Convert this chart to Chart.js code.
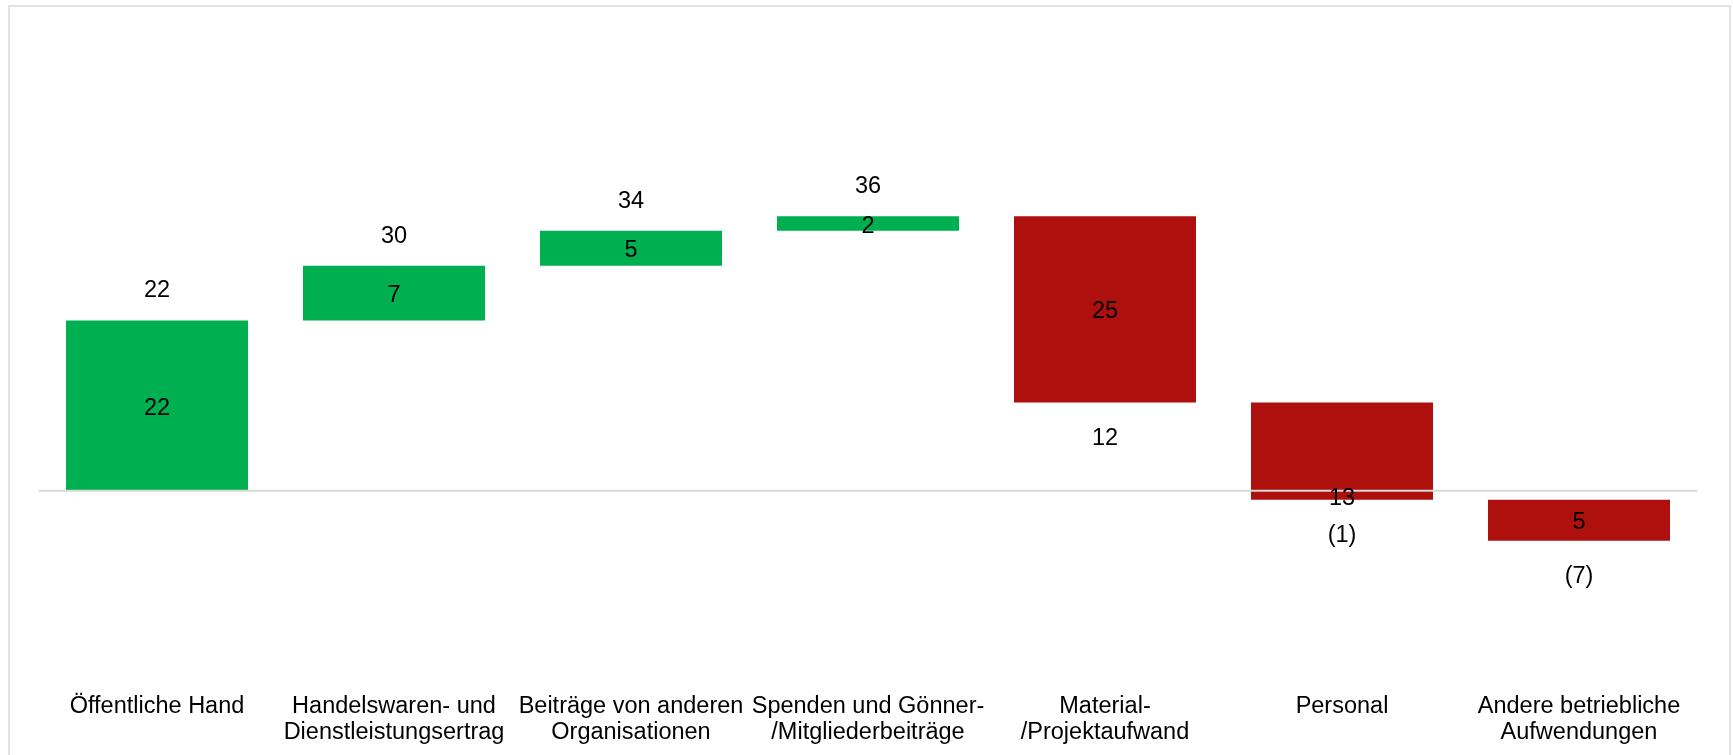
<!DOCTYPE html>
<html>
<head>
<meta charset="utf-8">
<script src="https://cdn.jsdelivr.net/npm/chart.js@4/dist/chart.umd.min.js"></script>
<style>
  html, body { margin: 0; padding: 0; background: #ffffff; }
  #wrap { width: 1733px; height: 755px; position: relative; }
</style>
</head>
<body>
<div id="wrap"><canvas id="c"></canvas></div>
<script>
// ---- Data ----
const categories = [
  ['Öffentliche Hand'],
  ['Handelswaren- und', 'Dienstleistungsertrag'],
  ['Beiträge von anderen', 'Organisationen'],
  ['Spenden und Gönner-', '/Mitgliederbeiträge'],
  ['Material-', '/Projektaufwand'],
  ['Personal'],
  ['Andere betriebliche', 'Aufwendungen']
];
const changes = [22.4, 7.2, 4.6, 1.9, -24.5, -12.8, -5.4];
const yMin = -26;
const yMax = 60;

// floating bars built from the changes
const floating = [];
const totals = [];
let run = 0;
changes.forEach(function (c) {
  const start = run;
  run = Math.round((run + c) * 10) / 10;
  floating.push([start, run]);
  totals.push(run);
});

const GREEN = '#00B050';
const RED = '#AE100D';
const FONT = '"Liberation Sans", Arial, Helvetica, sans-serif';
const FSIZE = 23.5;
const TEXT_DY = 2.5;

function fmt(v) {
  const r = Math.round(Math.abs(v));
  return v < 0 ? '(' + r + ')' : String(r);
}

const decorPlugin = {
  id: 'decor',
  beforeDraw(chart) {
    const ctx = chart.ctx;
    ctx.save();
    ctx.strokeStyle = '#d9d9d9';
    ctx.lineWidth = 1.5;
    ctx.strokeRect(9, 6, 1721, 900);
    ctx.restore();
  },
  afterDatasetsDraw(chart) {
    const ctx = chart.ctx;
    const ys = chart.scales.y;
    const area = chart.chartArea;
    const y0 = ys.getPixelForValue(0);
    ctx.save();
    // zero line
    ctx.strokeStyle = '#d9d9d9';
    ctx.lineWidth = 2;
    ctx.beginPath();
    ctx.moveTo(area.left, y0);
    ctx.lineTo(area.right, y0);
    ctx.stroke();

    ctx.fillStyle = '#000000';
    ctx.font = FSIZE + 'px ' + FONT;
    ctx.textAlign = 'center';
    ctx.textBaseline = 'middle';
    const meta = chart.getDatasetMeta(0);
    meta.data.forEach(function (bar, i) {
      const c = changes[i];
      const top = Math.min(bar.y, bar.base);
      const bottom = Math.max(bar.y, bar.base);
      // running total label
      if (c >= 0) {
        ctx.fillText(fmt(totals[i]), bar.x, top - 32 + TEXT_DY);
      } else {
        ctx.fillText(fmt(totals[i]), bar.x, bottom + 33 + TEXT_DY);
      }
      // change label: centre of the bar, or of its part below zero when it crosses zero
      let cy = (top + bottom) / 2;
      if (top < y0 && bottom > y0) cy = (y0 + bottom) / 2 + 1;
      ctx.fillText(String(Math.round(Math.abs(c))), bar.x, cy + TEXT_DY);
    });
    ctx.restore();
  }
};

new Chart(document.getElementById('c'), {
  type: 'bar',
  data: {
    labels: categories,
    datasets: [{
      data: floating,
      backgroundColor: changes.map(function (c) { return c >= 0 ? GREEN : RED; }),
      borderWidth: 0,
      barPercentage: 0.768,
      categoryPercentage: 1.0
    }]
  },
  options: {
    responsive: true,
    maintainAspectRatio: false,
    animation: false,
    layout: { padding: { left: 38.5, right: 35.5, top: 34.7, bottom: 5 } },
    plugins: {
      legend: { display: false },
      tooltip: { enabled: false },
      title: { display: false }
    },
    scales: {
      x: {
        grid: { display: false, drawTicks: false },
        border: { display: false },
        ticks: {
          color: '#000000',
          font: { family: FONT, size: FSIZE, lineHeight: 1.1 },
          padding: 5,
          maxRotation: 0,
          minRotation: 0,
          autoSkip: false
        }
      },
      y: {
        display: false,
        min: yMin,
        max: yMax
      }
    }
  },
  plugins: [decorPlugin]
});
</script>
</body>
</html>
